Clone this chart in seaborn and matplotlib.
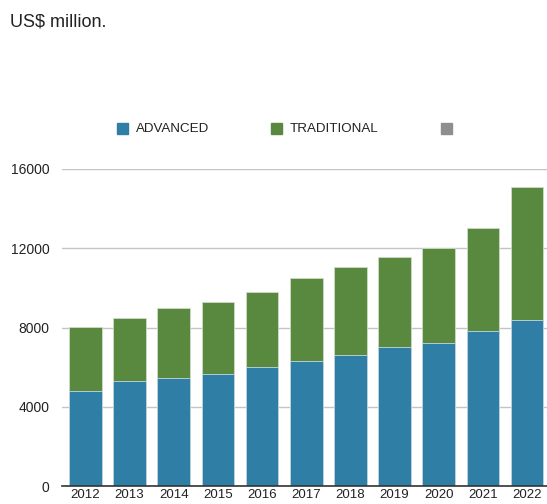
import matplotlib
matplotlib.use('Agg')
import matplotlib.pyplot as plt
from matplotlib.patches import Rectangle
import seaborn as sns
import pandas as pd

# values (US$ million)
years = ['2012', '2013', '2014', '2015', '2016', '2017', '2018', '2019', '2020', '2021', '2022']
advanced = [4800, 5300, 5450, 5650, 6000, 6300, 6600, 7000, 7200, 7820, 8400]
traditional = [3230, 3200, 3550, 3650, 3800, 4200, 4450, 4550, 4800, 5200, 6680]
yticks = [0, 4000, 8000, 12000, 16000]

blue = '#2E7EA6'
green = '#58893E'
grey = '#8E8E8E'

df = pd.DataFrame({'year': years, 'advanced': advanced, 'traditional': traditional})
df['total'] = df['advanced'] + df['traditional']

sns.set_style('white')
plt.rcParams['font.family'] = ['Liberation Sans', 'DejaVu Sans']

W, H = 547, 504
fig = plt.figure(figsize=(W / 100, H / 100), dpi=100)
ax = fig.add_axes([62 / W, (H - 486) / H, 1 - 62 / W, (486 - 169) / H])

# stacked bars: totals (green) first, advanced (blue) over them
sns.barplot(data=df, x='year', y='total', color=green, saturation=1, width=0.74,
            edgecolor='#cfdcc8', linewidth=0.6, ax=ax, zorder=2)
sns.barplot(data=df, x='year', y='advanced', color=blue, saturation=1, width=0.74,
            edgecolor='#c6d8e2', linewidth=0.6, ax=ax, zorder=3)

ax.set_ylim(0, 16000)
ax.set_xlim(-0.53, 10.45)
ax.set_yticks(yticks)
ax.set_yticklabels([str(v) for v in yticks])
ax.set_xlabel('')
ax.set_ylabel('')
ax.yaxis.grid(True, color='#c4c4c4', linewidth=1, zorder=0)
ax.set_axisbelow(True)
for s in ['top', 'right', 'left']:
    ax.spines[s].set_visible(False)
ax.spines['bottom'].set_color('#333333')
ax.spines['bottom'].set_linewidth(1.2)
ax.spines['bottom'].set_zorder(5)
ax.tick_params(axis='y', length=0, pad=9, labelsize=10, labelcolor='#222222')
ax.tick_params(axis='x', length=0, pad=2, labelsize=9.5, labelcolor='#222222')

# title
fig.text(10 / W, 1 - 22 / H, 'US$ million.', fontsize=13, color='#222222', va='center', ha='left')

# hand-placed legend
def legend_item(x, label, color):
    fig.add_artist(Rectangle((x / W, 1 - 134 / H), 11 / W, 11 / H,
                             transform=fig.transFigure, color=color))
    if label:
        fig.text((x + 19) / W, 1 - 128.5 / H, label, fontsize=9.6, color='#222222',
                 va='center', ha='left')

legend_item(116.5, 'ADVANCED', blue)
legend_item(271, 'TRADITIONAL', green)
legend_item(440.5, '', grey)

fig.savefig('out.png', dpi=100)
